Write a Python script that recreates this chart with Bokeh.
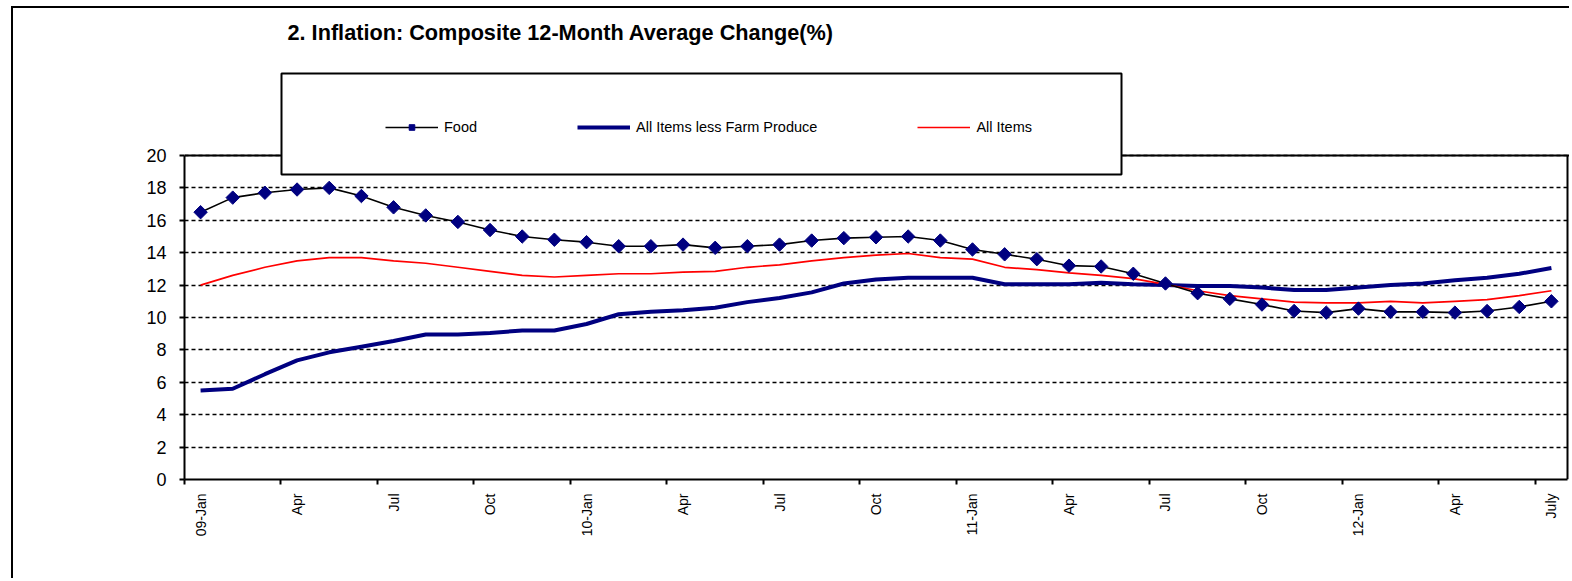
import numpy as np
from bokeh.plotting import figure
from bokeh.models import (Range1d, FixedTicker, Legend, LegendItem,
                          BoxAnnotation, Span, Label)
from bokeh.embed import file_html
from bokeh.resources import INLINE

# ---------------- data ----------------
months = ["2009-01", "2009-02", "2009-03", "2009-04", "2009-05", "2009-06",
          "2009-07", "2009-08", "2009-09", "2009-10", "2009-11", "2009-12",
          "2010-01", "2010-02", "2010-03", "2010-04", "2010-05", "2010-06",
          "2010-07", "2010-08", "2010-09", "2010-10", "2010-11", "2010-12",
          "2011-01", "2011-02", "2011-03", "2011-04", "2011-05", "2011-06",
          "2011-07", "2011-08", "2011-09", "2011-10", "2011-11", "2011-12",
          "2012-01", "2012-02", "2012-03", "2012-04", "2012-05", "2012-06",
          "2012-07"]

food = [16.5, 17.4, 17.7, 17.9, 18.0, 17.5, 16.8, 16.3, 15.9, 15.4,
        15.0, 14.8, 14.65, 14.4, 14.4, 14.5, 14.3, 14.4, 14.5, 14.75,
        14.9, 14.95, 15.0, 14.75, 14.2, 13.9, 13.6, 13.2, 13.15, 12.7,
        12.1, 11.5, 11.15, 10.8, 10.4, 10.3, 10.55, 10.35, 10.35, 10.3,
        10.4, 10.65, 11.0]

less_farm = [5.5, 5.6, 6.5, 7.35, 7.85, 8.2, 8.55, 8.95, 8.95, 9.05,
             9.2, 9.2, 9.6, 10.2, 10.35, 10.45, 10.6, 10.95, 11.2, 11.55,
             12.1, 12.35, 12.45, 12.45, 12.45, 12.05, 12.05, 12.05, 12.15, 12.05,
             12.0, 11.95, 11.95, 11.85, 11.7, 11.7, 11.85, 12.0, 12.1, 12.3,
             12.45, 12.7, 13.05]

all_items = [12.0, 12.6, 13.1, 13.5, 13.7, 13.7, 13.5, 13.35, 13.1, 12.85,
             12.6, 12.5, 12.6, 12.7, 12.7, 12.8, 12.85, 13.1, 13.25, 13.5,
             13.7, 13.85, 13.95, 13.7, 13.6, 13.1, 12.95, 12.75, 12.6, 12.4,
             12.05, 11.65, 11.35, 11.15, 10.95, 10.9, 10.9, 11.0, 10.9, 11.0,
             11.1, 11.35, 11.65]

tick_labels = ["09-Jan", "Apr", "Jul", "Oct", "10-Jan", "Apr", "Jul", "Oct",
               "11-Jan", "Apr", "Jul", "Oct", "12-Jan", "Apr", "July"]
y_ticks = [0, 2, 4, 6, 8, 10, 12, 14, 16, 18, 20]

title_text = "2. Inflation: Composite 12-Month Average Change(%)"
series_names = ["Food", "All Items less Farm Produce", "All Items"]

# ---------------- layout ----------------
W, H = 1558, 572
ML, MR, MT, MB = 171, 2, 4, 101
frame_w = W - ML - MR
frame_h = H - MT - MB
px_per_month = 1383 / len(months)
px_per_unit = 16.2

x = list(range(len(months)))
x_end = -0.5 + frame_w / px_per_month
y_end = frame_h / px_per_unit

p = figure(width=W, height=H, output_backend="svg", toolbar_location=None,
           x_range=Range1d(-0.5, x_end), y_range=Range1d(0, y_end),
           min_border_left=ML, min_border_right=MR,
           min_border_top=MT, min_border_bottom=MB,
           background_fill_color="white", border_fill_color="white",
           styles={"margin-left": "11px", "margin-top": "6px",
                   "border-left": "2px solid black",
                   "border-top": "2px solid black"})
p.outline_line_color = None

FONT = "Liberation Sans"

# x axis: tick marks between categories, labels at category centers
label_pos = list(range(0, len(months), 3))
xt = FixedTicker(ticks=label_pos, minor_ticks=[i - 0.5 for i in label_pos])
p.xaxis.ticker = xt
p.xaxis.major_label_overrides = {i: t for i, t in zip(label_pos, tick_labels)}
p.xaxis.major_label_orientation = np.pi / 2
p.xaxis.major_tick_line_color = None
p.xaxis.major_tick_out = 5
p.xaxis.minor_tick_out = 5
p.xaxis.minor_tick_in = 0
p.xaxis.minor_tick_line_color = "black"
p.xaxis.minor_tick_line_width = 2
p.xaxis.axis_line_width = 2
p.xaxis.axis_line_color = "black"
p.xaxis.bounds = (-0.5, len(months) - 0.5)
p.xaxis.major_label_text_font = FONT
p.xaxis.major_label_text_font_size = "14px"
p.xaxis.major_label_text_color = "black"
p.xaxis.major_label_standoff = 9

# y axis
p.yaxis.ticker = FixedTicker(ticks=y_ticks)
p.yaxis.bounds = (0, max(y_ticks))
p.yaxis.axis_line_width = 2
p.yaxis.axis_line_color = "black"
p.yaxis.major_tick_out = 5
p.yaxis.major_tick_in = 0
p.yaxis.major_tick_line_width = 2
p.yaxis.major_tick_line_color = "black"
p.yaxis.minor_tick_line_color = None
p.yaxis.major_label_text_font = FONT
p.yaxis.major_label_text_font_size = "18px"
p.yaxis.major_label_text_color = "black"
p.yaxis.major_label_standoff = 13

p.xgrid.grid_line_color = None
p.ygrid.grid_line_color = "black"
p.ygrid.grid_line_dash = "4 3"
p.ygrid.grid_line_width = 1.5

# plot-area border (top and right)
p.add_layout(Span(location=max(y_ticks), dimension="width",
                  line_color="black", line_width=2))
p.segment(x0=[len(months) - 0.5], y0=[0], x1=[len(months) - 0.5],
          y1=[max(y_ticks)], line_color="black", line_width=2)

# series
r_farm = p.line(x, less_farm, line_color="#000080", line_width=4)
r_all = p.line(x, all_items, line_color="#FF0000", line_width=1.7)
r_food_l = p.line(x, food, line_color="black", line_width=1.6)
r_food_m = p.scatter(x, food, marker="square", angle=np.pi / 4, size=9.5,
                     fill_color="#000080", line_color="#000080")

# legend box
box = BoxAnnotation(left=-0.5 + (281 - 184) / px_per_month,
                    right=-0.5 + (1121 - 184) / px_per_month,
                    top=(479 - 73) / px_per_unit,
                    bottom=(479 - 174) / px_per_unit,
                    fill_color="white", fill_alpha=1.0,
                    line_color="black", line_alpha=1.0, line_width=2)
p.add_layout(box)

legend = Legend(items=[LegendItem(label=series_names[0], renderers=[r_food_l, r_food_m]),
                       LegendItem(label=series_names[1], renderers=[r_farm]),
                       LegendItem(label=series_names[2], renderers=[r_all])],
                orientation="horizontal", location=(201, 344),
                glyph_width=53, glyph_height=14, label_height=14,
                label_standoff=6, spacing=100, padding=0, margin=0,
                border_line_color=None, background_fill_alpha=0,
                label_text_font=FONT, label_text_font_size="14.5px",
                label_text_color="black")
p.add_layout(legend, "center")

title = Label(x=103, y=447, x_units="screen", y_units="screen",
              text=title_text, text_font=FONT, text_font_style="bold",
              text_font_size="21.7px", text_color="black",
              text_baseline="alphabetic")
p.add_layout(title)

open("out.html", "w").write(file_html(p, INLINE))
